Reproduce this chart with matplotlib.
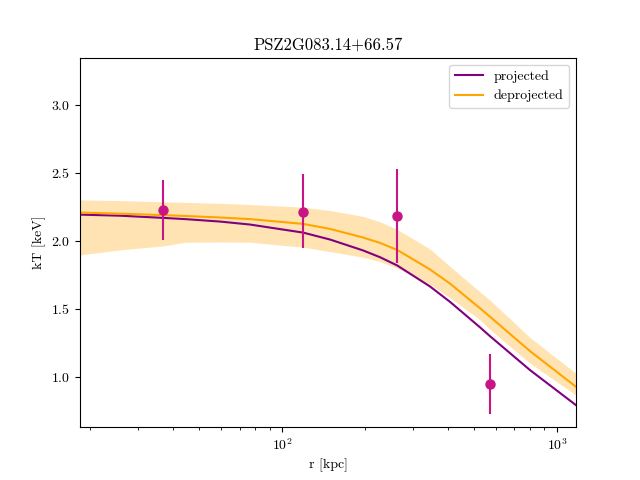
import numpy as np
import matplotlib
matplotlib.use('Agg')
import matplotlib.pyplot as plt

plt.rcParams['font.family'] = 'cmr10'
plt.rcParams['mathtext.fontset'] = 'cm'
plt.rcParams['axes.formatter.use_mathtext'] = True

# Data points (radius in kpc, temperature in keV)
r_obs = [36.9, 119.2, 262.0, 570.0]
kt_obs = [2.228, 2.213, 2.184, 0.949]
kt_lo = [2.007, 1.948, 1.838, 0.728]
kt_hi = [2.449, 2.493, 2.529, 1.169]

# Model curves
r_model = [18.4, 25.8, 36.9, 44.4, 59.5, 76.5, 119.2, 149.4, 197.0, 227.2, 262.0,
           345.3, 408.3, 524.8, 570.6, 797.8, 1172.0]
kt_proj = [2.193, 2.185, 2.169, 2.160, 2.142, 2.120, 2.061, 2.010, 1.930, 1.880, 1.820,
           1.665, 1.552, 1.365, 1.300, 1.051, 0.794]
kt_deproj = [2.208, 2.200, 2.189, 2.183, 2.172, 2.160, 2.125, 2.088, 2.025, 1.985, 1.934,
             1.790, 1.686, 1.505, 1.443, 1.190, 0.929]
band_hi = [2.301, 2.296, 2.287, 2.283, 2.276, 2.267, 2.248, 2.223, 2.180, 2.140, 2.085,
           1.940, 1.812, 1.625, 1.565, 1.290, 1.027]
band_lo = [1.897, 1.934, 1.963, 1.990, 1.992, 1.990, 1.954, 1.921, 1.880, 1.848, 1.800,
           1.680, 1.582, 1.420, 1.350, 1.101, 0.868]

fig, ax = plt.subplots(figsize=(6.4, 4.8), dpi=100)

ax.fill_between(r_model, band_lo, band_hi, color='orange', alpha=0.3, linewidth=0)
ax.plot(r_model, kt_proj, color='purple', label='projected')
ax.plot(r_model, kt_deproj, color='orange', label='deprojected')

yerr = [np.array(kt_obs) - np.array(kt_lo), np.array(kt_hi) - np.array(kt_obs)]
ax.errorbar(r_obs, kt_obs, yerr=yerr, fmt='o', color='mediumvioletred', markersize=6.5)

ax.set_xscale('log')
ax.set_xlim(18.4, 1172)
ax.set_ylim(0.632, 3.346)
ax.set_xlabel('r [kpc]')
ax.set_ylabel('kT [keV]')
ax.set_title('PSZ2G083.14+66.57')
ax.legend(loc='upper right')

fig.savefig('out.png')
